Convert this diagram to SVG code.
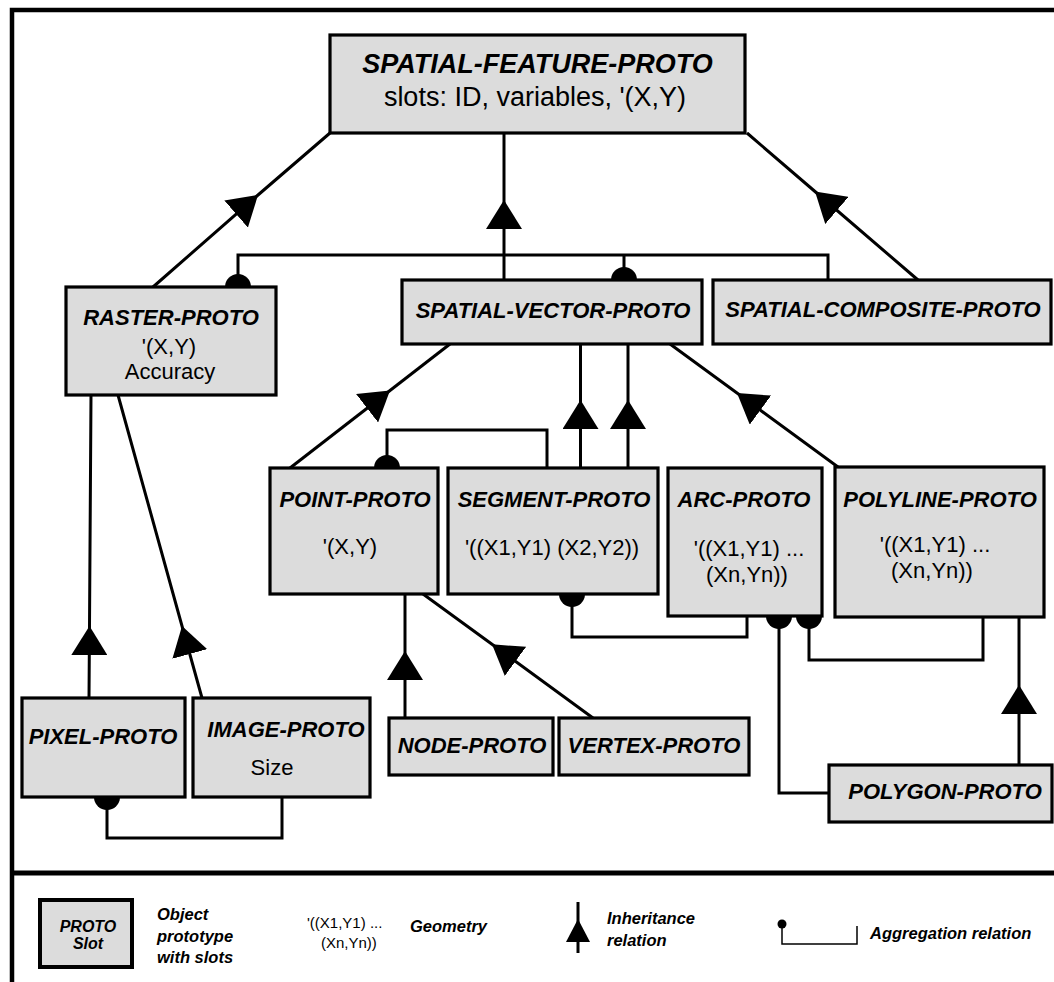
<svg xmlns="http://www.w3.org/2000/svg" width="1054" height="982" viewBox="0 0 1054 982">
  <style>
    text { font-family: "Liberation Sans", Arial, sans-serif; fill: #000; }
    .t { font-weight: bold; font-style: italic; font-size: 22px; text-anchor: middle; }
    .s { font-size: 22px; text-anchor: middle; }
    .box { fill: #dcdcdc; stroke: #000; stroke-width: 3.2; }
    .inh { fill: none; stroke: #000; stroke-width: 3; marker-mid: url(#tri); }
    .agg { fill: none; stroke: #000; stroke-width: 3; }
    .dot { fill: #000; }
    .lg { font-weight: bold; font-style: italic; font-size: 16.5px; }
  </style>
  <defs>
    <!-- filled triangle placed at the middle vertex of each inheritance path -->
    <marker id="tri" markerUnits="userSpaceOnUse" viewBox="0 0 29 36" markerWidth="29" markerHeight="36" refX="29" refY="18" orient="auto">
      <path d="M0,0 L29,18 L0,36 Z" fill="#000"/>
    </marker>
  </defs>

  <rect width="1054" height="982" fill="#fff"/>

  <!-- outer frame and legend divider -->
  <rect x="12" y="10" width="1100" height="1000" fill="none" stroke="#000" stroke-width="4.5"/>
  <line x1="12" y1="873" x2="1060" y2="873" stroke="#000" stroke-width="5"/>

  <g id="connectors">
    <!-- inheritance: child -> arrow tip -> parent -->
    <path class="inh" d="M153,287 L258,195 L330,133"/>
    <path class="inh" d="M504,280 L504,200 L504,133"/>
    <path class="inh" d="M918,280 L815,191.5 L747,133"/>
    <path class="inh" d="M290,468 L390,390.5 L450,344"/>
    <path class="inh" d="M580.5,468 L580.5,400 L580.5,344"/>
    <path class="inh" d="M628,468 L628,400 L628,344"/>
    <path class="inh" d="M838,467 L737,393 L670,344"/>
    <path class="inh" d="M89,698 L89.5,626 L91,395"/>
    <path class="inh" d="M202,698 L182,626 L118,395"/>
    <path class="inh" d="M405,718 L405,651 L405,594"/>
    <path class="inh" d="M593,718 L492,644.3 L423,594"/>
    <path class="inh" d="M1019,765 L1019,685 L1019,617"/>

    <!-- aggregation: dot at the part, bracket to the whole -->
    <path class="agg" d="M238,287 V255 H828 V280 M624,255 V280"/>
    <path class="agg" d="M387,468 V430 H547 V468"/>
    <path class="agg" d="M572,594 V637 H747 V616"/>
    <path class="agg" d="M779,616 V793 H829"/>
    <path class="agg" d="M809,616 V660 H983 V617"/>
    <path class="agg" d="M107,797 V838 H282 V797"/>
    <circle class="dot" cx="238" cy="287" r="13"/>
    <circle class="dot" cx="624" cy="280" r="13"/>
    <circle class="dot" cx="387" cy="468" r="13"/>
    <circle class="dot" cx="572" cy="594" r="13"/>
    <circle class="dot" cx="779" cy="616" r="13"/>
    <circle class="dot" cx="809" cy="616" r="13"/>
    <circle class="dot" cx="107" cy="797" r="13"/>
  </g>

  <g id="spatial-feature-proto">
    <rect class="box" x="330" y="35" width="415" height="98"/>
    <text class="t" x="537.5" y="73" style="font-size:27px">SPATIAL-FEATURE-PROTO</text>
    <text class="s" x="535" y="106" style="font-size:27px">slots: ID, variables, '(X,Y)</text>
  </g>

  <g id="raster-proto">
    <rect class="box" x="66" y="287" width="210" height="108"/>
    <text class="t" x="171" y="325">RASTER-PROTO</text>
    <text class="s" x="169" y="354">'(X,Y)</text>
    <text class="s" x="170" y="379">Accuracy</text>
  </g>

  <g id="spatial-vector-proto">
    <rect class="box" x="402" y="280" width="300" height="64"/>
    <text class="t" x="553" y="318">SPATIAL-VECTOR-PROTO</text>
  </g>

  <g id="spatial-composite-proto">
    <rect class="box" x="713" y="280" width="338" height="64"/>
    <text class="t" x="883" y="317">SPATIAL-COMPOSITE-PROTO</text>
  </g>

  <g id="point-proto">
    <rect class="box" x="270" y="468" width="168" height="126"/>
    <text class="t" x="355" y="507">POINT-PROTO</text>
    <text class="s" x="350" y="554">'(X,Y)</text>
  </g>

  <g id="segment-proto">
    <rect class="box" x="448" y="468" width="210" height="126"/>
    <text class="t" x="554" y="507">SEGMENT-PROTO</text>
    <text class="s" x="552" y="555">'((X1,Y1) (X2,Y2))</text>
  </g>

  <g id="arc-proto">
    <rect class="box" x="668" y="468" width="154" height="148"/>
    <text class="t" x="744" y="507">ARC-PROTO</text>
    <text class="s" x="749" y="556">'((X1,Y1) ...</text>
    <text class="s" x="747" y="582">(Xn,Yn))</text>
  </g>

  <g id="polyline-proto">
    <rect class="box" x="835" y="467" width="209" height="150"/>
    <text class="t" x="940" y="507">POLYLINE-PROTO</text>
    <text class="s" x="935" y="552">'((X1,Y1) ...</text>
    <text class="s" x="932" y="578">(Xn,Yn))</text>
  </g>

  <g id="pixel-proto">
    <rect class="box" x="22" y="698" width="163" height="99"/>
    <text class="t" x="103" y="744">PIXEL-PROTO</text>
  </g>

  <g id="image-proto">
    <rect class="box" x="193" y="698" width="177" height="99"/>
    <text class="t" x="286" y="737">IMAGE-PROTO</text>
    <text class="s" x="272" y="775">Size</text>
  </g>

  <g id="node-proto">
    <rect class="box" x="389" y="718" width="164" height="57"/>
    <text class="t" x="472" y="753">NODE-PROTO</text>
  </g>

  <g id="vertex-proto">
    <rect class="box" x="559" y="718" width="190" height="57"/>
    <text class="t" x="654" y="753">VERTEX-PROTO</text>
  </g>

  <g id="polygon-proto">
    <rect class="box" x="829" y="765" width="223" height="57"/>
    <text class="t" x="945" y="799">POLYGON-PROTO</text>
  </g>

  <g id="legend">
    <rect x="40" y="900" width="92" height="67" fill="#dcdcdc" stroke="#000" stroke-width="4"/>
    <text class="lg" x="88" y="932" text-anchor="middle" style="font-size:16px">PROTO</text>
    <text class="lg" x="88" y="949" text-anchor="middle" style="font-size:16px">Slot</text>
    <text class="lg" x="157" y="920">Object</text>
    <text class="lg" x="157" y="942">prototype</text>
    <text class="lg" x="157" y="963">with slots</text>

    <text x="307" y="928" style="font-size:15px">'((X1,Y1) ...</text>
    <text x="321" y="948" style="font-size:15px">(Xn,Yn))</text>
    <text class="lg" x="410" y="932">Geometry</text>

    <line x1="578" y1="902" x2="578" y2="953" stroke="#000" stroke-width="3"/>
    <path d="M578,919 L590,942 L566,942 Z" fill="#000"/>
    <text class="lg" x="607" y="924">Inheritance</text>
    <text class="lg" x="607" y="946">relation</text>

    <path d="M782,924 V944 H857 V926" fill="none" stroke="#000" stroke-width="1.5"/>
    <circle cx="782" cy="924" r="4.5" fill="#000"/>
    <text class="lg" x="870" y="939">Aggregation relation</text>
  </g>
</svg>
